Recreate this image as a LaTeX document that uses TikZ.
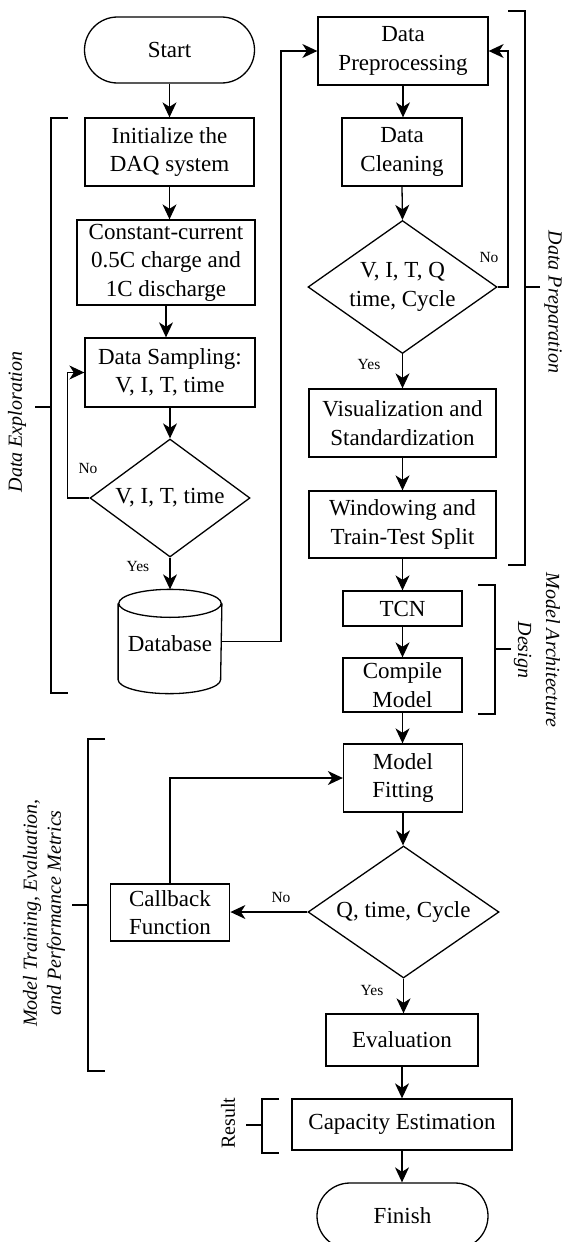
\documentclass[tikz,border=0pt]{standalone}
\usepackage{fontspec}
\setmainfont{Liberation Serif}
\usetikzlibrary{arrows.meta,shapes.geometric,calc}
\newcommand\mainfnt{\fontsize{23}{28.5}\selectfont}
\newcommand\labfnt{\fontsize{20}{24}\selectfont}
\newcommand\yesfnt{\fontsize{15.5}{18}\selectfont}
\begin{document}
\begin{tikzpicture}[x=1pt,y=-1pt,line width=1.3pt,
  box/.style={draw,rectangle,inner sep=0pt,align=center,font=\mainfnt},
  term/.style={draw,rectangle,rounded corners=33pt,inner sep=0pt,align=center,font=\mainfnt,minimum width=170pt,minimum height=66pt},
  dia/.style={draw,diamond,inner sep=0pt},
  dtext/.style={inner sep=0pt,align=center,font=\mainfnt},
  arr/.style={-{Stealth[length=15pt,width=14pt,inset=4.5pt]}},
  yn/.style={inner sep=0pt,font=\yesfnt},
  brk/.style={line width=1.3pt},
  lab/.style={inner sep=0pt,align=center,font=\labfnt\itshape}]
\useasboundingbox (0,0) rectangle (563,1242);
% left column
\node[term] (start) at (169.5,50) {Start};
\node[box,minimum width=169pt,minimum height=68pt] (init) at (169.5,152) {Initialize the\\DAQ system};
\node[box,minimum width=178pt,minimum height=85pt] (const) at (166,262.5) {Constant-current\\0.5C charge and\\1C discharge};
\node[box,minimum width=170pt,minimum height=69pt] (samp) at (170,372.5) {Data Sampling:\\V, I, T, time};
\node[dia,minimum width=160pt,minimum height=118pt] (d1) at (170,498) {};
\node[dtext] (d1t) at (170,498) {V, I, T, time};
\node[inner sep=0pt,minimum width=102.5pt,minimum height=103pt] (db) at (170,641.5) {};
\node[dtext] (dbt) at (170,644) {Database};
% cylinder drawing
\draw ($(db.north west)+(0,14)$) -- ($(db.south west)+(0,-14)$)
      arc[start angle=180,end angle=360,x radius=51.25pt,y radius=14pt]
      -- ($(db.north east)+(0,14)$);
\draw ($(db.north)+(0,14)$) ellipse[x radius=51.25pt,y radius=14pt];
% right column
\node[box,minimum width=170pt,minimum height=68pt] (prep) at (403,51) {Data\\Preprocessing};
\node[box,minimum width=120pt,minimum height=68pt] (clean) at (402,152) {Data\\Cleaning};
\node[dia,minimum width=189pt,minimum height=133pt] (d3) at (402.5,287) {};
\node[dtext] (d3t) at (402.5,287) {V, I, T, Q\\time, Cycle};
\node[box,minimum width=187pt,minimum height=68pt] (vis) at (402.5,423) {Visualization and\\Standardization};
\node[box,minimum width=187pt,minimum height=67pt] (win) at (402.5,524.5) {Windowing and\\Train-Test Split};
\node[box,minimum width=119pt,minimum height=35pt] (tcn) at (402.5,608.5) {TCN};
\node[box,minimum width=119pt,minimum height=54pt] (comp) at (402.5,685) {Compile\\Model};
\node[box,minimum width=119pt,minimum height=68pt] (fit) at (403,778) {Model\\Fitting};
\node[dia,minimum width=191pt,minimum height=132pt] (d2) at (403.5,912) {};
\node[dtext] (d2t) at (403.5,912) {Q, time, Cycle};
\node[box,minimum width=119.5pt,minimum height=57pt] (cb) at (170,912.5) {Callback\\Function};
\node[box,minimum width=152pt,minimum height=52pt] (eval) at (402,1040) {Evaluation};
\node[box,minimum width=220pt,minimum height=51pt] (cap) at (402,1124.5) {Capacity Estimation};
\node[term,minimum width=171pt] (fin) at (402.5,1216) {Finish};
% connectors
\draw[arr] (start.south) -- (start.south |- init.north);
\draw[arr] (init.south) -- (init.south |- const.north);
\draw[arr] (const.south) -- (const.south |- samp.north);
\draw[arr] (samp.south) -- (d1.north);
\draw[arr] (d1.west) -- ++(-22,0) |- (samp.west);
\draw[arr] (d1.south) -- (db.north);
\coordinate (dbr) at (281,641.5);
\draw[arr] (db.east) -- (dbr) |- (prep.west);
\draw[arr] (prep.south) -- (prep.south |- clean.north);
\draw[arr] (clean.south) -- (d3.north);
\coordinate (d3r) at (508,287);
\draw[arr] (d3.east) -- (d3r) |- (prep.east);
\draw[arr] (d3.south) -- (vis.north);
\draw[arr] (vis.south) -- (win.north);
\draw[arr] (win.south) -- (tcn.north);
\draw[arr] (tcn.south) -- (comp.north);
\draw[arr] (comp.south) -- (comp.south |- fit.north);
\draw[arr] (fit.south) -- (fit.south |- d2.north);
\draw[arr] (d2.west) -- (cb.east |- d2.west);
\draw[arr] (cb.north) |- (fit.west);
\draw[arr] (d2.south) -- (d2.south |- eval.north);
\draw[arr] (eval.south) -- (eval.south |- cap.north);
\draw[arr] (cap.south) -- (cap.south |- fin.north);
% yes / no labels
\node[yn] (n1) at (88,468) {No};
\node[yn] (y1) at (138,566) {Yes};
\node[yn] (n3) at (489,257) {No};
\node[yn] (y3) at (369,364) {Yes};
\node[yn] (n2) at (281,897) {No};
\node[yn] (y2) at (372,990) {Yes};
% brackets
\draw[brk] (68,118) -- (51,118) -- (51,693) -- (68,693) (51,407) -- (35,407);
\node[lab,rotate=90] (lde) at (17,422) {Data Exploration};
\draw[brk] (508,11) -- (525,11) -- (525,565) -- (508,565) (525,287) -- (540,287);
\node[lab,rotate=-90] (ldp) at (553,302) {Data Preparation};
\draw[brk] (478,585) -- (495,585) -- (495,714) -- (478,714) (495,649) -- (511,649);
\node[lab,rotate=-90,font=\fontsize{20}{28}\selectfont\itshape] (lmad) at (537,650) {Model Architecture\\Design};
\draw[brk] (105,739) -- (88,739) -- (88,1071) -- (105,1071) (88,905) -- (72,905);
\node[lab,rotate=90] (lmte) at (44,913) {Model Training, Evaluation,\\and Performance Metrics};
\draw[brk] (279,1099) -- (262,1099) -- (262,1153) -- (279,1153) (262,1125) -- (246,1125);
\node[inner sep=0pt,font=\labfnt,rotate=90] (lres) at (228,1123) {Result};
\end{tikzpicture}
\end{document}
